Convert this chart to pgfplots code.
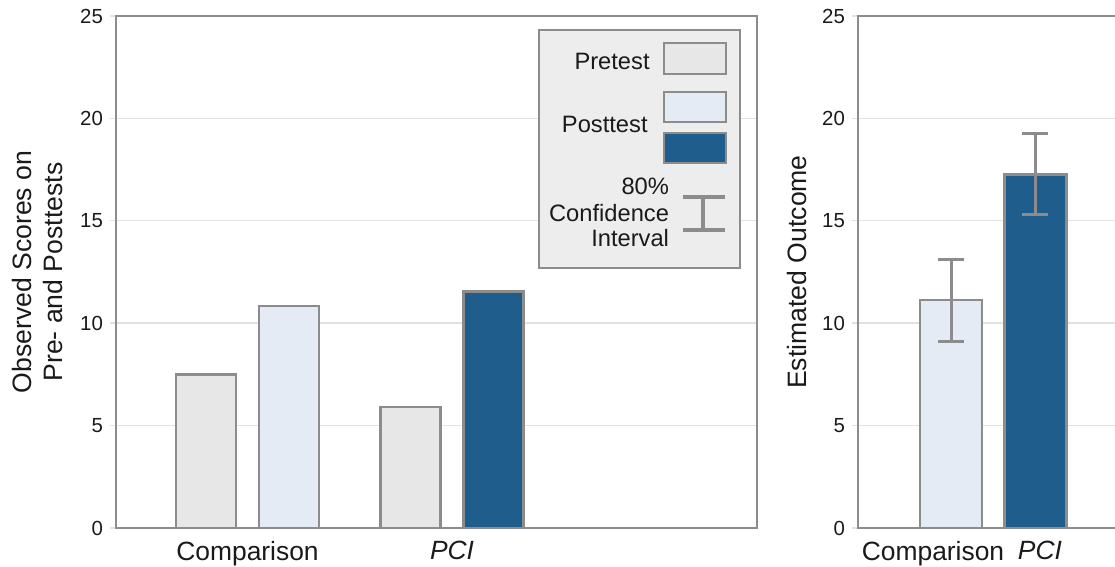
\documentclass[border=0pt]{standalone}
\usepackage{fontspec}
\setmainfont{Liberation Sans}
\usepackage{pgfplots}
\pgfplotsset{compat=1.18}
\definecolor{pre}{HTML}{E6E7E6}
\definecolor{postc}{HTML}{E4EBF4}
\definecolor{postp}{HTML}{1F5D8C}
\definecolor{edge}{HTML}{8C8C8C}
\definecolor{gridc}{HTML}{E2E2E2}
\definecolor{legbg}{HTML}{ECEDEC}
\definecolor{txt}{HTML}{1A1A1A}

\pgfplotsset{
  mystyle/.style={
    scale only axis, anchor=south west,
    ymin=0, ymax=25, ytick={0,5,...,25},
    axis line style={draw=edge, line width=1.4pt},
    ymajorgrids, grid style={gridc, line width=0.7pt},
    ytick style={draw=gridc, line width=0.7pt},
    xtick style={draw=none},
    ytick pos=left,
    major tick length=3pt, tick align=outside,
    yticklabel style={font=\fontsize{10.2}{12}\selectfont, text=txt, /pgf/number format/assume math mode=true},
    xticklabel style={font=\fontsize{13.2}{15}\selectfont, text=txt},
    ybar,
  }
}

\begin{document}
\begin{tikzpicture}
% ---------- left panel ----------
\begin{axis}[mystyle,
  at={(58pt,19.5pt)}, width=320.5pt, height=256pt,
  xmin=-0.643, xmax=2.491,
  xtick={0,1}, xticklabels={Comparison,\textit{PCI}},
  ylabel={Observed Scores on\\Pre- and Posttests},
  every axis y label/.style={at={(axis description cs:-0.1232,0.5)}, rotate=90, anchor=center,
    font=\fontsize{13.3}{15.5}\selectfont, align=center, text=txt},
]
\addplot[fill=pre, draw=edge, line width=1.2pt, bar width=0.293, bar shift=-0.203]
  coordinates {(0,7.5) (1,5.9)};
\addplot[fill=postc, draw=edge, line width=1.2pt, bar width=0.293, bar shift=0.203]
  coordinates {(0,10.85)};
\addplot[fill=postp, draw=edge, line width=1.2pt, bar width=0.293, bar shift=0.203]
  coordinates {(1,11.55)};
\end{axis}

% ---------- legend ----------
\draw[draw=edge, fill=legbg, line width=1.4pt] (269.5pt,149.5pt) rectangle (370pt,268.5pt);
\draw[draw=edge, fill=pre, line width=1.2pt] (332pt,246.5pt) rectangle (363pt,262pt);
\draw[draw=edge, fill=postc, line width=1.2pt] (332pt,222.5pt) rectangle (363pt,237.5pt);
\draw[draw=edge, fill=postp, line width=1.2pt] (332pt,202pt) rectangle (363pt,217pt);
\begin{scope}[every node/.style={font=\fontsize{11.85}{14}\selectfont, text=txt, inner sep=0pt, anchor=base east}]
\node at (325pt,248.5pt) {Pretest};
\node at (324pt,217.2pt) {Posttest};
\node at (334.7pt,186pt) {80\%};
\node at (334.7pt,172.7pt) {Confidence};
\node at (334.7pt,160.2pt) {Interval};
\end{scope}
\draw[draw=edge, line width=1.6pt] (341.5pt,185pt) -- (362.5pt,185pt)
  (351.5pt,185pt) -- (351.5pt,168.5pt) (341.5pt,168.5pt) -- (362.5pt,168.5pt);

% ---------- right panel ----------
\begin{axis}[mystyle,
  at={(429pt,19.5pt)}, width=138.5pt, height=256pt,
  xmin=-1.101, xmax=2.178,
  xtick={-0.213,1.053}, xticklabels={Comparison,\textit{PCI}},
  ylabel={Estimated Outcome},
  every axis y label/.style={at={(axis description cs:-0.222,0.5)}, rotate=90, anchor=center,
    font=\fontsize{13.3}{15.5}\selectfont, text=txt},
]
\addplot[fill=postc, draw=edge, line width=1.2pt, bar width=0.734, bar shift=0,
  error bars/.cd, y dir=both, y explicit,
  error bar style={draw=edge, line width=1.5pt},
  error mark options={rotate=90, mark size=6.5pt, line width=1.5pt, draw=edge}]
  coordinates {(0,11.12) +- (0,2.0)};
\addplot[fill=postp, draw=edge, line width=1.2pt, bar width=0.734, bar shift=0,
  error bars/.cd, y dir=both, y explicit,
  error bar style={draw=edge, line width=1.5pt},
  error mark options={rotate=90, mark size=6.5pt, line width=1.5pt, draw=edge}]
  coordinates {(1,17.27) +- (0,1.97)};
\end{axis}
\pgfresetboundingbox
\useasboundingbox (0,0) rectangle (557.5pt,283.5pt);
\end{tikzpicture}
\end{document}
